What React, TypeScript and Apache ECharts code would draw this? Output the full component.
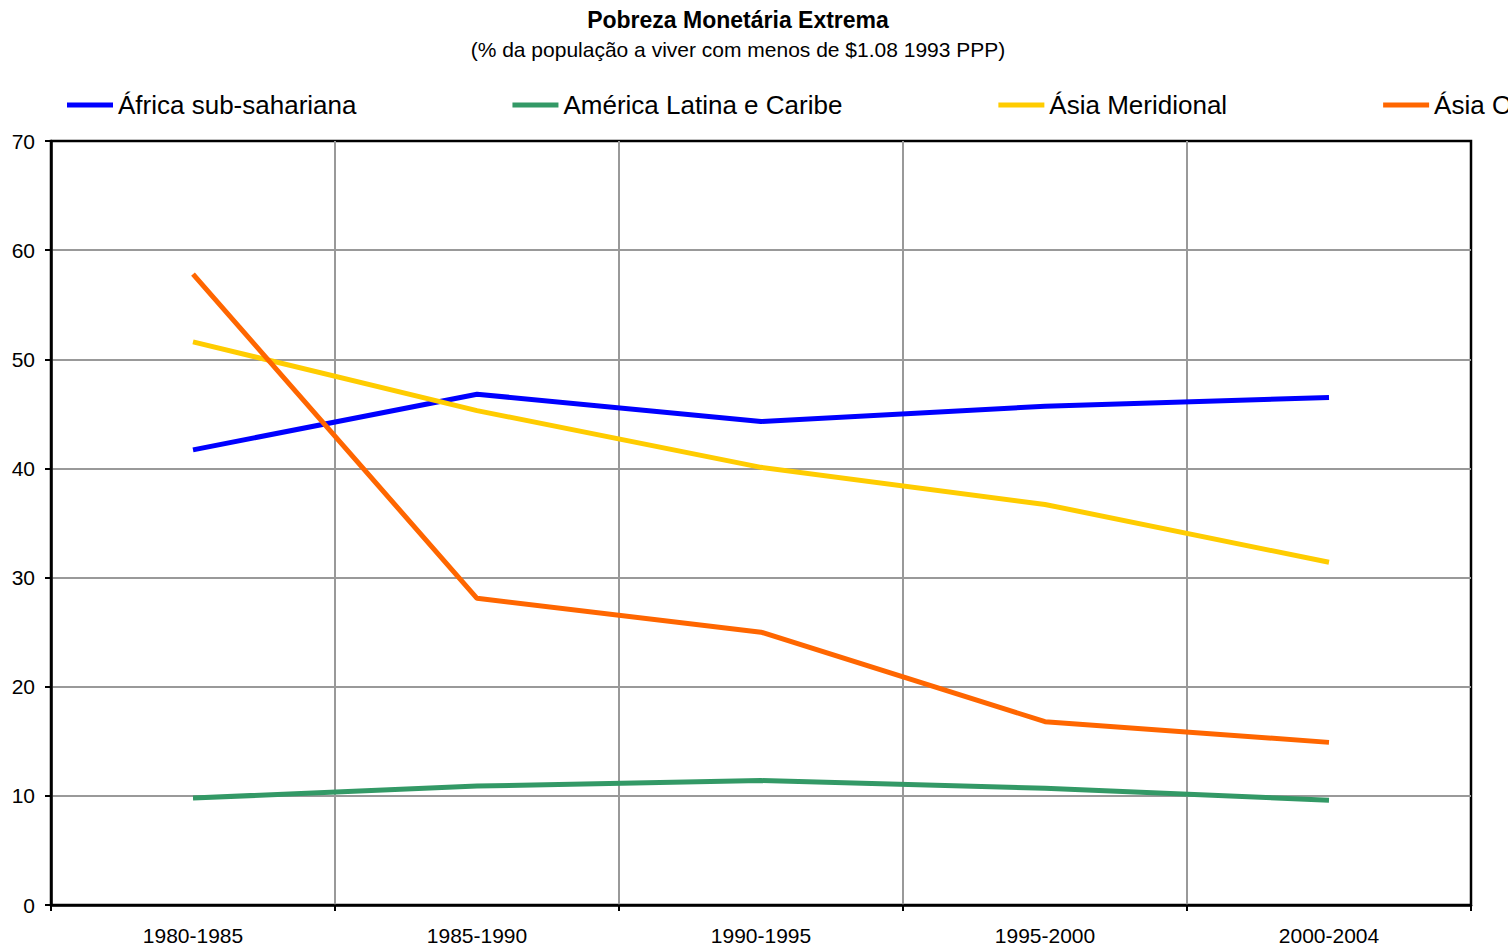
import React, { useEffect, useRef } from "react";
import * as echarts from "echarts";

const categories = ["1980-1985", "1985-1990", "1990-1995", "1995-2000", "2000-2004"];
const seriesNames = [
  "África sub-sahariana",
  "América Latina e Caribe",
  "Ásia Meridional",
  "Ásia Oriental e Pacífico",
];
const africa = [41.7, 46.8, 44.3, 45.7, 46.5];
const latinAmerica = [9.8, 10.9, 11.4, 10.7, 9.6];
const southAsia = [51.6, 45.3, 40.1, 36.7, 31.4];
const eastAsia = [57.8, 28.1, 25.0, 16.8, 14.9];
const colors = ["#0000FF", "#339966", "#FFCC00", "#FF6600"];
const title = "Pobreza Monetária Extrema";
const subtitle = "(% da população a viver com menos de $1.08 1993 PPP)";

export default function App() {
  const ref = useRef<HTMLDivElement>(null);
  useEffect(() => {
    if (!ref.current) return;
    const chart = echarts.init(ref.current, undefined, { renderer: "svg" });
    const font = "'Liberation Sans', Arial, sans-serif";
    const dataSets = [africa, latinAmerica, southAsia, eastAsia];
    chart.setOption({
      animation: false,
      backgroundColor: "#ffffff",
      title: {
        text: title,
        subtext: subtitle,
        left: 738,
        textAlign: "center",
        top: 8,
        itemGap: 8,
        padding: 0,
        textStyle: { fontFamily: font, fontSize: 23, fontWeight: "bold", color: "#000" },
        subtextStyle: { fontFamily: font, fontSize: 21, color: "#000" },
      },
      legend: {
        left: 67,
        top: 92,
        padding: 0,
        width: 3000,
        itemGap: 156,
        itemWidth: 46,
        itemHeight: 5,
        icon: "rect",
        textStyle: { fontFamily: font, fontSize: 26, color: "#000" },
        data: seriesNames,
      },
      grid: {
        left: 51,
        right: 37,
        top: 141,
        bottom: 47,
        show: true,
        borderColor: "#000",
        borderWidth: 2.5,
        containLabel: false,
      },
      xAxis: {
        type: "category",
        data: categories,
        boundaryGap: true,
        axisLine: { show: true, lineStyle: { color: "#000", width: 2.5 } },
        axisTick: { show: true, inside: false, length: 6, lineStyle: { color: "#000", width: 2 } },
        axisLabel: { fontFamily: font, fontSize: 21, color: "#000", margin: 20 },
        splitLine: {
          show: true,
          interval: 0,
          showMinLine: false,
          showMaxLine: false,
          lineStyle: { color: "#999", width: 2 },
        },
      },
      yAxis: {
        type: "value",
        min: 0,
        max: 70,
        interval: 10,
        axisLine: { show: true, lineStyle: { color: "#000", width: 2.5 } },
        axisTick: { show: true, inside: false, length: 6, lineStyle: { color: "#000", width: 2 } },
        axisLabel: { fontFamily: font, fontSize: 21, color: "#000", margin: 16 },
        splitLine: {
          show: true,
          showMinLine: false,
          showMaxLine: false,
          lineStyle: { color: "#999", width: 2 },
        },
      },
      series: seriesNames.map((name, i) => ({
        name,
        type: "line",
        data: dataSets[i],
        showSymbol: false,
        symbol: "none",
        color: colors[i],
        lineStyle: { color: colors[i], width: 5, cap: "butt" },
        itemStyle: { color: colors[i] },
      })),
    });
    return () => chart.dispose();
  }, []);
  return (
    <div
      ref={ref}
      style={{ position: "fixed", left: 0, top: 0, width: 1508, height: 952, overflow: "hidden" }}
    />
  );
}
